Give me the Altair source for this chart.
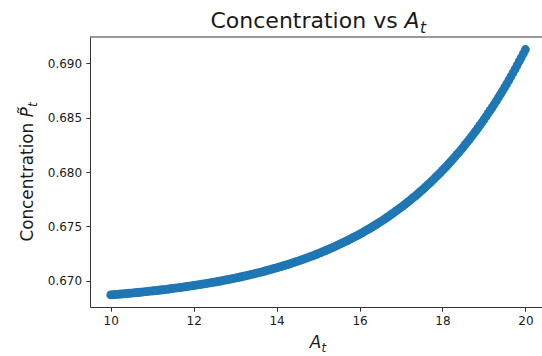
import altair as alt
import pandas as pd

# Sample grid of A_t and the resulting concentration P~_t
a_t = [
    10.0, 10.05, 10.1, 10.15, 10.2, 10.25, 10.3, 10.35, 10.4, 10.45,
    10.5, 10.55, 10.6, 10.65, 10.7, 10.75, 10.8, 10.85, 10.9, 10.95,
    11.0, 11.05, 11.1, 11.15, 11.2, 11.25, 11.3, 11.35, 11.4, 11.45,
    11.5, 11.55, 11.6, 11.65, 11.7, 11.75, 11.8, 11.85, 11.9, 11.95,
    12.0, 12.05, 12.1, 12.15, 12.2, 12.25, 12.3, 12.35, 12.4, 12.45,
    12.5, 12.55, 12.6, 12.65, 12.7, 12.75, 12.8, 12.85, 12.9, 12.95,
    13.0, 13.05, 13.1, 13.15, 13.2, 13.25, 13.3, 13.35, 13.4, 13.45,
    13.5, 13.55, 13.6, 13.65, 13.7, 13.75, 13.8, 13.85, 13.9, 13.95,
    14.0, 14.05, 14.1, 14.15, 14.2, 14.25, 14.3, 14.35, 14.4, 14.45,
    14.5, 14.55, 14.6, 14.65, 14.7, 14.75, 14.8, 14.85, 14.9, 14.95,
    15.0, 15.05, 15.1, 15.15, 15.2, 15.25, 15.3, 15.35, 15.4, 15.45,
    15.5, 15.55, 15.6, 15.65, 15.7, 15.75, 15.8, 15.85, 15.9, 15.95,
    16.0, 16.05, 16.1, 16.15, 16.2, 16.25, 16.3, 16.35, 16.4, 16.45,
    16.5, 16.55, 16.6, 16.65, 16.7, 16.75, 16.8, 16.85, 16.9, 16.95,
    17.0, 17.05, 17.1, 17.15, 17.2, 17.25, 17.3, 17.35, 17.4, 17.45,
    17.5, 17.55, 17.6, 17.65, 17.7, 17.75, 17.8, 17.85, 17.9, 17.95,
    18.0, 18.05, 18.1, 18.15, 18.2, 18.25, 18.3, 18.35, 18.4, 18.45,
    18.5, 18.55, 18.6, 18.65, 18.7, 18.75, 18.8, 18.85, 18.9, 18.95,
    19.0, 19.05, 19.1, 19.15, 19.2, 19.25, 19.3, 19.35, 19.4, 19.45,
    19.5, 19.55, 19.6, 19.65, 19.7, 19.75, 19.8, 19.85, 19.9, 19.95,
    20.0,
]
concentration = [
    0.66872, 0.668735, 0.66875, 0.668765, 0.66878, 0.6688, 0.66882, 0.668835, 0.66885, 0.66887,
    0.66889, 0.668905, 0.66892, 0.66894, 0.66896, 0.66898, 0.669, 0.66902, 0.66904, 0.66906,
    0.66908, 0.6691, 0.66912, 0.669145, 0.66917, 0.66919, 0.66921, 0.669235, 0.66926, 0.669285,
    0.66931, 0.669335, 0.66936, 0.669385, 0.66941, 0.66944, 0.66947, 0.669495, 0.66952, 0.66955,
    0.66958, 0.66961, 0.66964, 0.66967, 0.6697, 0.66973, 0.66976, 0.669795, 0.66983, 0.66986,
    0.66989, 0.669925, 0.66996, 0.669995, 0.67003, 0.67007, 0.67011, 0.670145, 0.67018, 0.67022,
    0.67026, 0.6703, 0.67034, 0.670385, 0.67043, 0.67047, 0.67051, 0.670555, 0.6706, 0.67065,
    0.6707, 0.670745, 0.67079, 0.67084, 0.67089, 0.67094, 0.67099, 0.671045, 0.6711, 0.67115,
    0.6712, 0.67126, 0.67132, 0.671375, 0.67143, 0.67149, 0.67155, 0.671615, 0.67168, 0.67174,
    0.6718, 0.671865, 0.67193, 0.672, 0.67207, 0.67214, 0.67221, 0.67228, 0.67235, 0.672425,
    0.6725, 0.67258, 0.67266, 0.67274, 0.67282, 0.6729, 0.67298, 0.673065, 0.67315, 0.67324,
    0.67333, 0.67342, 0.67351, 0.6736, 0.67369, 0.67379, 0.67389, 0.67399, 0.67409, 0.67419,
    0.67429, 0.674395, 0.6745, 0.67461, 0.67472, 0.674835, 0.67495, 0.675065, 0.67518, 0.6753,
    0.67542, 0.675545, 0.67567, 0.6758, 0.67593, 0.676065, 0.6762, 0.676335, 0.67647, 0.67661,
    0.67675, 0.6769, 0.67705, 0.6772, 0.67735, 0.677505, 0.67766, 0.67782, 0.67798, 0.678145,
    0.67831, 0.678485, 0.67866, 0.678835, 0.67901, 0.679195, 0.67938, 0.679565, 0.67975, 0.679945,
    0.68014, 0.680345, 0.68055, 0.680755, 0.68096, 0.681175, 0.68139, 0.68161, 0.68183, 0.68206,
    0.68229, 0.682525, 0.68276, 0.683005, 0.68325, 0.6835, 0.68375, 0.68401, 0.68427, 0.68454,
    0.68481, 0.68509, 0.68537, 0.685655, 0.68594, 0.686235, 0.68653, 0.686835, 0.68714, 0.687455,
    0.68777, 0.688095, 0.68842, 0.688755, 0.68909, 0.68944, 0.68979, 0.690145, 0.6905, 0.69087,
    0.69124,
]
x_ticks = [10, 12, 14, 16, 18, 20]
y_ticks = [0.670, 0.675, 0.680, 0.685, 0.690]

FONT = "DejaVu Sans"
INK = "#1a1a1a"
SPINE = "#333333"
BLUE = "#1f77b4"
W, H = 452, 270

df = pd.DataFrame({"A": a_t, "P": concentration})

points = alt.Chart(df).mark_circle(size=78, color=BLUE, opacity=1).encode(
    x=alt.X(
        "A:Q",
        scale=alt.Scale(domain=[9.5, 20.4], nice=False, zero=False),
        axis=alt.Axis(values=x_ticks, format="d", title=None),
    ),
    y=alt.Y(
        "P:Q",
        scale=alt.Scale(domain=[0.66761, 0.69239], nice=False, zero=False),
        axis=alt.Axis(values=y_ticks, format=".3f", title=None),
    ),
)

one = pd.DataFrame({"k": [0]})

# top spine of the axes frame
top_spine = alt.Chart(one).mark_rule(color=SPINE, strokeWidth=1).encode(
    x=alt.value(0), x2=alt.value(W), y=alt.value(0)
)


def label(text, x, y, size, italic=False, angle=0):
    kw = dict(font=FONT, fontSize=size, align="left", baseline="alphabetic",
              color=INK, text=text)
    if italic:
        kw["fontStyle"] = "italic"
    if angle:
        kw["angle"] = angle
    return alt.Chart(one).mark_text(**kw).encode(x=alt.value(x), y=alt.value(y))


# title: "Concentration vs A_t"
title_parts = [
    label("Concentration vs", 120.5, -9, 22),
    label("A", 314.6, -9, 22, italic=True),
    label("t", 330.1, -4.5, 15.4, italic=True),
]
# x label: A_t
xlabel_parts = [
    label("A", 219.8, 311, 16.8, italic=True),
    label("t", 231.6, 314.5, 11.8, italic=True),
]
# y label: Concentration P~_t (rotated)
ylabel_parts = [
    label("Concentration", -57, 204.5, 16.8, angle=270),
    label("P\u0303", -57, 80.3, 16.8, italic=True, angle=270),
    label("t", -53.5, 70, 11.8, italic=True, angle=270),
]

chart = alt.layer(
    points, top_spine, *title_parts, *xlabel_parts, *ylabel_parts
).properties(
    width=W,
    height=H,
    autosize=alt.AutoSizeParams(type="none"),
    padding={"left": 90, "top": 37, "right": 0, "bottom": 49},
).configure_view(
    stroke=None
).configure_axis(
    grid=False,
    domainColor=SPINE,
    domainWidth=1,
    tickColor=SPINE,
    tickWidth=1,
    tickSize=4.2,
    labelPadding=4.2,
    labelFont=FONT,
    labelFontSize=12,
    labelColor=INK,
)

chart.save("out.html", embed_options={"renderer": "svg", "actions": False})
